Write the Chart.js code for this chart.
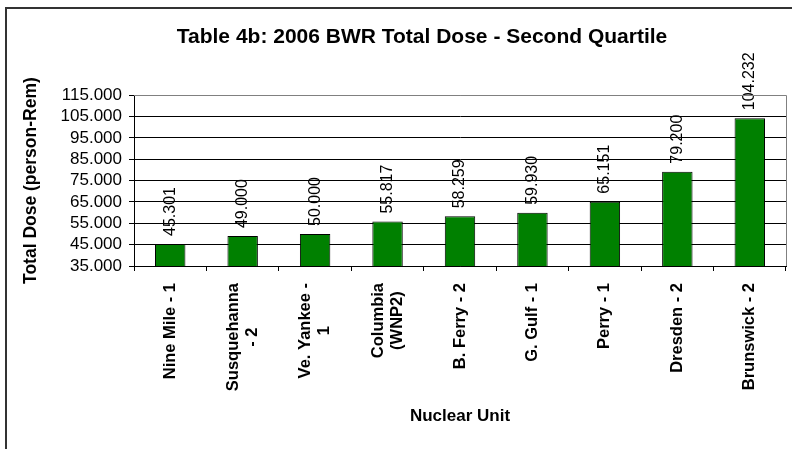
<!DOCTYPE html>
<html>
<head>
<meta charset="utf-8">
<script src="https://cdn.jsdelivr.net/npm/chart.js@4/dist/chart.umd.min.js"></script>
<style>
    html, body { margin: 0; padding: 0; background: #fff; overflow: hidden; width: 792px; height: 449px; }
    #frame { position: absolute; left: 5px; top: 7px; width: 900px; height: 500px; border: 2px solid #333; box-sizing: border-box; }
    #doseChart { position: absolute; left: 0; top: 0; }
</style>
</head>
<body>
<div id="frame"></div>
<canvas id="doseChart" width="844" height="449"></canvas>
<script>
    // Chart data
    const units = [
        ['Nine Mile - 1'],
        ['Susquehanna', '- 2'],
        ['Ve. Yankee -', '1'],
        ['Columbia', '(WNP2)'],
        ['B. Ferry - 2'],
        ['G. Gulf - 1'],
        ['Perry - 1'],
        ['Dresden - 2'],
        ['Brunswick - 2']
    ];
    const totalDose = [45.301, 49.000, 50.000, 55.817, 58.259, 59.930, 65.151, 79.200, 104.232];
    const doseMin = 35;
    const doseMax = 115;
    const doseStep = 10;

    const FONT = '"Liberation Sans", Arial, sans-serif';
    Chart.defaults.font.family = FONT;
    Chart.defaults.color = '#000';

    // Value labels above bars, rotated
    const barLabels = {
        id: 'barLabels',
        afterDatasetsDraw(chart) {
            const ctx = chart.ctx;
            const meta = chart.getDatasetMeta(0);
            ctx.save();
            ctx.font = '16px ' + FONT;
            ctx.fillStyle = '#000';
            ctx.textAlign = 'left';
            ctx.textBaseline = 'middle';
            meta.data.forEach(function(bar, i) {
                ctx.save();
                ctx.translate(bar.x, bar.y - 8);
                ctx.rotate(-Math.PI / 2);
                ctx.fillText(totalDose[i].toFixed(3), 0, 0);
                ctx.restore();
            });
            ctx.restore();
        }
    };

    // Category labels: rotated, each line centred in its block
    const unitLabels = {
        id: 'unitLabels',
        afterDraw(chart) {
            const ctx = chart.ctx;
            const xs = chart.scales.x;
            const lineH = 19;
            ctx.save();
            ctx.font = 'bold 16.5px ' + FONT;
            ctx.fillStyle = '#000';
            ctx.textAlign = 'center';
            ctx.textBaseline = 'middle';
            units.forEach(function(lines, i) {
                const w = Math.max.apply(null, lines.map(l => ctx.measureText(l).width));
                ctx.save();
                ctx.translate(xs.getPixelForTick(i), xs.top + 17);
                ctx.rotate(-Math.PI / 2);
                lines.forEach(function(l, j) {
                    ctx.fillText(l, -w / 2, (j - (lines.length - 1) / 2) * lineH);
                });
                ctx.restore();
            });
            ctx.restore();
        }
    };

    // Grey top/right edge of the plot area
    const plotEdge = {
        id: 'plotEdge',
        afterDraw(chart) {
            const a = chart.chartArea;
            const ctx = chart.ctx;
            ctx.save();
            ctx.strokeStyle = '#808080';
            ctx.lineWidth = 1;
            ctx.beginPath();
            ctx.moveTo(a.left, Math.round(a.top) + 0.5);
            ctx.lineTo(Math.round(a.right) + 0.5, Math.round(a.top) + 0.5);
            ctx.lineTo(Math.round(a.right) + 0.5, a.bottom);
            ctx.stroke();
            ctx.restore();
        }
    };

    new Chart(document.getElementById('doseChart'), {
        type: 'bar',
        data: {
            labels: units,
            datasets: [{
                data: totalDose,
                backgroundColor: '#008000',
                borderColor: '#000',
                borderWidth: 1,
                barPercentage: 0.42,
                categoryPercentage: 1
            }]
        },
        options: {
            responsive: false,
            animation: false,
            layout: { padding: 0 },
            plugins: {
                legend: { display: false },
                tooltip: { enabled: false },
                title: {
                    display: true,
                    text: 'Table 4b: 2006 BWR Total Dose - Second Quartile',
                    font: { size: 21, weight: 'bold' },
                    color: '#000',
                    padding: { top: 25, bottom: 45 }
                }
            },
            scales: {
                x: {
                    afterFit(scale) { scale.height = 449 - 266; },
                    grid: { offset: true, drawOnChartArea: false, color: '#000', tickLength: 5 },
                    border: { color: '#000' },
                    ticks: { color: 'rgba(0,0,0,0)', minRotation: 90, maxRotation: 90, autoSkip: false, font: { size: 16.5, weight: 'bold' } },
                    title: {
                        display: true,
                        text: 'Nuclear Unit',
                        font: { size: 17, weight: 'bold' },
                        color: '#000',
                        padding: { top: 0, bottom: 22 }
                    }
                },
                y: {
                    min: doseMin,
                    max: doseMax,
                    afterFit(scale) { scale.width = 134; },
                    grid: {
                        color: (c) => (c.tick && c.tick.value === doseMax ? '#808080' : '#000'),
                        tickColor: '#000',
                        tickLength: 5
                    },
                    border: { color: '#000' },
                    ticks: {
                        stepSize: doseStep,
                        autoSkip: false,
                        padding: 7,
                        color: '#000',
                        font: { size: 17 },
                        callback: (v) => v.toFixed(3)
                    },
                    title: {
                        display: true,
                        text: 'Total Dose (person-Rem)',
                        font: { size: 17.5, weight: 'bold' },
                        color: '#000',
                        padding: { top: 21, bottom: 0 }
                    }
                },
                // empty right-hand strip so the chart title centres on the full chart width
                yRight: {
                    position: 'right',
                    afterFit(scale) { scale.width = 58; },
                    grid: { display: false },
                    border: { display: false },
                    ticks: { display: false }
                }
            }
        },
        plugins: [barLabels, unitLabels, plotEdge]
    });
</script>
</body>
</html>
